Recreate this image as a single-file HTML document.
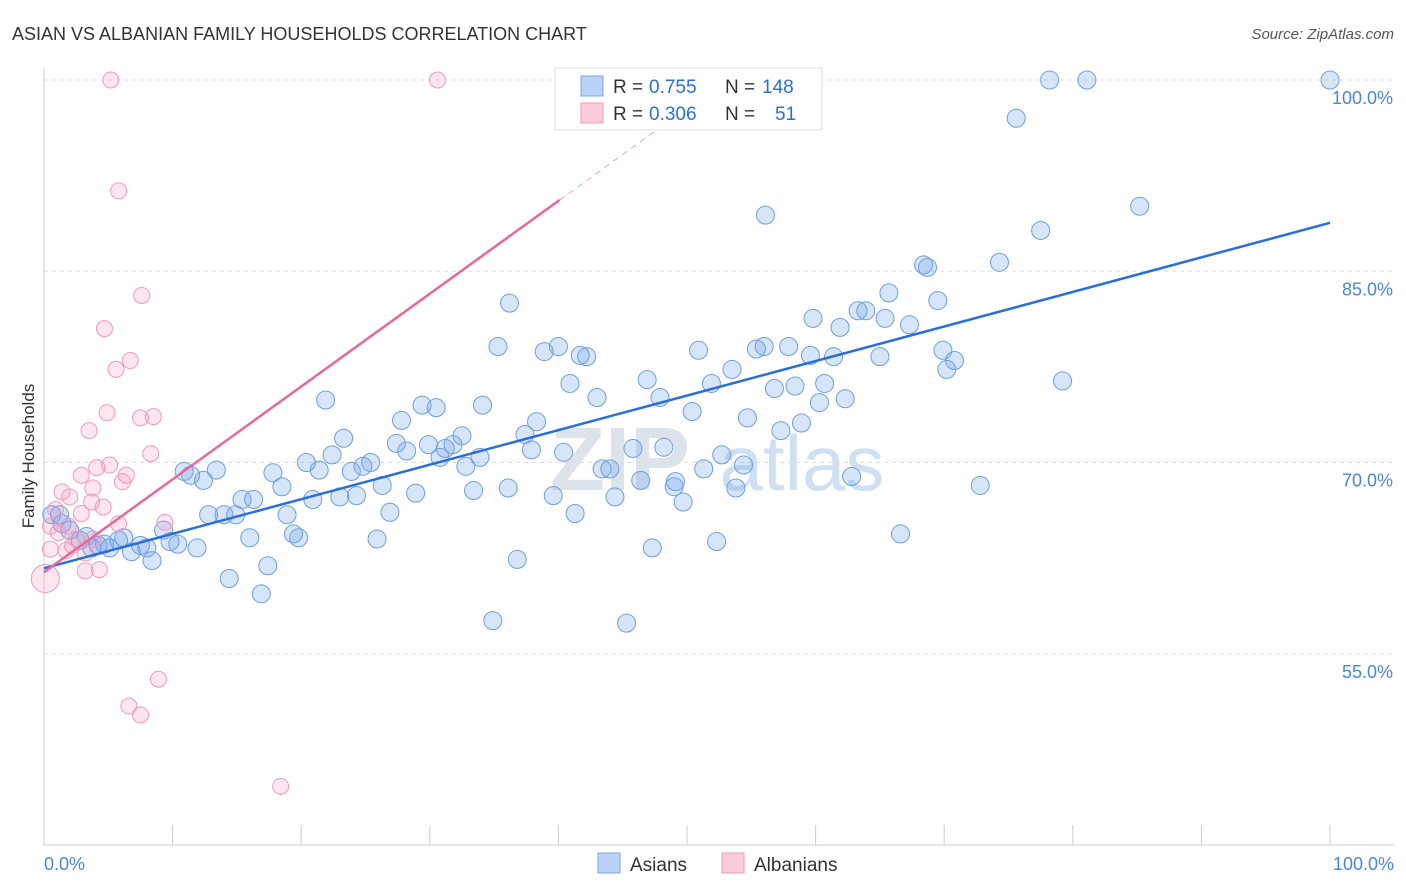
<!DOCTYPE html>
<html><head><meta charset="utf-8"><style>
body{margin:0;background:#fff;font-family:"Liberation Sans",sans-serif;}
#wrap{position:relative;width:1406px;height:892px;overflow:hidden;}
</style></head><body>
<div id="wrap">
<svg id="svg" width="1406" height="892" xmlns="http://www.w3.org/2000/svg">
<text x="12" y="40" font-size="18" fill="#333">ASIAN VS ALBANIAN FAMILY HOUSEHOLDS CORRELATION CHART</text>
<text x="1394" y="39" font-size="15" fill="#555" text-anchor="end" font-style="italic">Source: ZipAtlas.com</text>
<text transform="translate(34,456) rotate(-90)" font-size="17" fill="#333" text-anchor="middle">Family Households</text>
<text x="620" y="490" font-size="90" fill="#dde3ea" text-anchor="middle" font-weight="bold">ZIP</text>
<text x="802" y="490" font-size="78" fill="#cfe0f3" text-anchor="middle">atlas</text>
<g id="grid"></g><g id="ticks"></g><g id="blue"></g><g id="pink"></g><g id="lines"></g>
<g>
<rect x="555" y="68" width="267" height="62" fill="#fff" stroke="#ddd"/>
<rect x="581" y="76" width="22" height="20" fill="#b9d2f5" stroke="#7aa6e6"/>
<rect x="581" y="103" width="22" height="20" fill="#fbcbdc" stroke="#f09ab9"/>
<text x="613" y="93" font-size="19" fill="#333">R =</text>
<text x="649" y="93" font-size="19" fill="#2b6fd6">0.755</text>
<text x="725" y="93" font-size="19" fill="#333">N =</text>
<text x="762" y="93" font-size="19" fill="#2b6fd6">148</text>
<text x="613" y="120" font-size="19" fill="#333">R =</text>
<text x="649" y="120" font-size="19" fill="#2b6fd6">0.306</text>
<text x="725" y="120" font-size="19" fill="#333">N =</text>
<text x="775" y="120" font-size="19" fill="#2b6fd6">51</text>
</g>
<g>
<rect x="598" y="853" width="22" height="20" fill="#b9d2f5" stroke="#7aa6e6"/>
<text x="630" y="871" font-size="19" fill="#333">Asians</text>
<rect x="722" y="853" width="22" height="20" fill="#fbcbdc" stroke="#f09ab9"/>
<text x="754" y="871" font-size="19" fill="#333">Albanians</text>
</g>
</svg>
</div>
<script>
const yTicks=[55,70,85,100];
const yTickLabels=["55.0%","70.0%","85.0%","100.0%"];
const xTickLabels=["0.0%","100.0%"];
const asianX=[100,81.1,78.2,75.6,85.2,56.1,77.5,74.3,68.4,68.7,65.7,69.5,36.2,63.3,63.9,59.8,65.4,67.3,61.9,35.3,38.9,40.0,41.7,42.2,50.9,55.4,56.0,57.9,59.6,61.4,65.0,69.9,70.8,70.2,53.5,79.2,40.9,46.9,51.9,56.8,58.4,60.7,43.0,47.9,60.3,62.3,21.9,29.4,30.5,34.1,50.4,54.7,27.8,38.3,58.9,57.3,23.3,32.5,37.4,27.4,29.9,31.8,28.2,31.2,45.8,48.2,40.4,37.9,30.8,33.9,52.7,22.4,20.4,25.4,24.8,23.9,21.4,32.8,43.4,44.0,51.3,54.4,10.9,11.4,13.4,17.8,12.4,62.8,46.4,49.1,49.0,26.3,18.5,53.8,72.8,33.4,36.1,28.9,24.3,20.9,23.0,15.4,16.3,39.6,44.4,49.7,12.8,14.0,14.9,18.9,26.9,41.3,9.3,19.4,19.8,16.0,25.9,66.6,52.3,9.8,10.4,11.9,47.3,7.5,8.0,6.8,5.8,6.2,4.7,5.1,3.7,2.8,3.3,2.0,1.4,0.6,1.2,8.4,36.8,17.4,14.4,16.9,34.9,45.3,4.2];
const asianY=[100,100,100,97.0,90.1,89.4,88.2,85.7,85.5,85.3,83.3,82.7,82.5,81.9,81.9,81.3,81.3,80.8,80.6,79.1,78.7,79.1,78.4,78.3,78.8,78.9,79.1,79.1,78.4,78.3,78.3,78.8,78.0,77.3,77.3,76.4,76.2,76.5,76.2,75.8,76.0,76.2,75.1,75.1,74.7,75.0,74.9,74.5,74.3,74.5,74.0,73.5,73.3,73.2,73.1,72.5,71.9,72.1,72.2,71.5,71.4,71.4,70.9,71.1,71.1,71.2,70.8,71.0,70.4,70.4,70.6,70.6,70.0,70.0,69.7,69.3,69.4,69.7,69.5,69.5,69.5,69.8,69.3,69.0,69.4,69.2,68.6,68.9,68.6,68.5,68.1,68.2,68.1,68.0,68.2,67.8,68.0,67.6,67.4,67.1,67.3,67.1,67.1,67.4,67.3,66.9,65.9,65.9,65.9,65.9,66.1,66.0,64.7,64.4,64.1,64.1,64.0,64.4,63.8,63.8,63.6,63.3,63.3,63.5,63.3,63.0,63.9,64.1,63.6,63.3,63.3,63.9,64.2,64.7,65.2,65.9,65.9,62.3,62.4,61.9,60.9,59.7,57.6,57.4,63.5];
const albX=[5.2,30.6,5.8,7.6,4.7,6.7,5.6,4.9,7.5,8.5,3.5,8.3,4.1,5.1,2.9,6.4,6.1,3.8,1.4,2.0,3.7,4.6,0.9,2.9,9.4,5.8,1.9,1.1,2.5,2.2,3.2,1.7,0.5,4.3,3.2,0.1,8.9,6.6,7.5,18.4,0.5,3.8];
const albY=[100,100,91.3,83.1,80.5,78.0,77.3,73.9,73.5,73.6,72.5,70.7,69.6,69.8,69.0,69.0,68.5,68.0,67.7,67.3,66.9,66.5,66.3,66.0,65.3,65.2,65.0,64.5,64.0,63.5,62.9,63.1,63.2,61.6,61.5,60.9,53.0,50.9,50.2,44.6,65.0,64.0];
const asianTrend=[61.7,88.8];
const albTrend=[61.4,0.728];
const X=v=>44+v*12.86, Y=v=>80+(100-v)*12.75;
const NS="http://www.w3.org/2000/svg";
function mk(tag,attrs,parent){const e=document.createElementNS(NS,tag);for(const k in attrs)e.setAttribute(k,attrs[k]);document.getElementById(parent).appendChild(e);return e;}
yTicks.forEach((t,i)=>{
 const l=mk('line',{x1:44,x2:1394,y1:Y(t),y2:Y(t),stroke:'#ddd','stroke-dasharray':'4,4'},'grid');
 
 
 const tx=mk('text',{x:1393,y:Y(t)+24,'font-size':18,fill:'#4a86de','text-anchor':'end'},'grid');tx.textContent=yTickLabels[i];
 
 
});
const ax=mk('line',{x1:44,x2:1394,y1:845,y2:845,stroke:'#ccc'},'ticks');


const ay=mk('line',{x1:44,x2:44,y1:68,y2:845,stroke:'#ccc'},'ticks');


for(let i=0;i<=10;i++){const t=mk('line',{x1:X(i*10),x2:X(i*10),y1:825,y2:845,stroke:'#ccc'},'ticks');
 
 }
[[0,'start',44],[100,'end',1394]].forEach((d,i)=>{const t=mk('text',{x:d[2],y:870,'font-size':18,fill:'#4a86de','text-anchor':d[1]},'ticks');t.textContent=xTickLabels[i];
 
 });
asianX.forEach((x,i)=>{const c=mk('circle',{cx:X(x),cy:Y(asianY[i]),r:9,fill:'rgba(110,160,235,0.28)',stroke:'#6f9fe2','stroke-width':1},'blue');
 
 });
albX.forEach((x,i)=>{const c=mk('circle',{cx:X(x),cy:Y(albY[i]),r:(i==35?14:8),fill:'rgba(245,140,180,0.22)',stroke:'#f29abb','stroke-width':1},'pink');
 
 });
const bl=mk('line',{x1:X(0),y1:Y(asianTrend[0]),x2:X(100),y2:Y(asianTrend[1]),stroke:'#2a6fd8','stroke-width':2.5},'lines');


const pe=40.1;
const pl=mk('line',{x1:X(0),y1:Y(albTrend[0]),x2:X(pe),y2:Y(albTrend[0]+albTrend[1]*pe),stroke:'#e8689a','stroke-width':2.5},'lines');


const pd=mk('line',{x1:X(pe),y1:Y(albTrend[0]+albTrend[1]*pe),x2:X(51),y2:Y(albTrend[0]+albTrend[1]*51),stroke:'#f0a0bf','stroke-width':1,'stroke-dasharray':'6,5'},'lines');


</script>
</body></html>
